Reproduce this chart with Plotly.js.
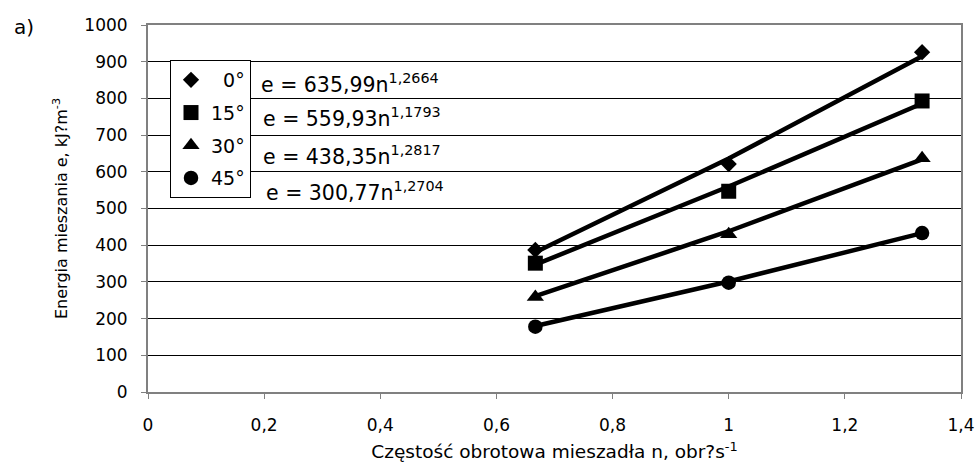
<!DOCTYPE html>
<html>
<head>
<meta charset="utf-8">
<script src="https://cdn.plot.ly/plotly-3.0.1.min.js"></script>
<style>html,body{margin:0;padding:0;background:#fff;}#chart{width:978px;height:474px;}</style>
</head>
<body>
<div id="chart"></div>
<script>
// Data
const speeds = [0.667, 1.0, 1.333];
const angleLabels = ['\u00a0\u00a00°', '15°', '30°', '45°'];
const values0 = [387, 621, 926];
const values15 = [351, 547, 793];
const values30 = [259, 430, 637];
const values45 = [178, 298, 433];
// Power-law trend lines
const trend0 = [381, 636, 915];
const trend15 = [347, 560, 786];
const trend30 = [261, 438, 634];
const trend45 = [180, 301, 433];
const equations = [
  'e = 635,99n<sup>1,2664</sup>',
  'e = 559,93n<sup>1,1793</sup>',
  'e = 438,35n<sup>1,2817</sup>',
  'e = 300,77n<sup>1,2704</sup>'
];
const symbols = ['diamond', 'square', 'triangle-up', 'circle'];
const markerSizes = [12.5, 15, 15, 14.5];

const seriesVals = [values0, values15, values30, values45];
const trendVals = [trend0, trend15, trend30, trend45];

const FONT = 'DejaVu Sans, Verdana, sans-serif';
const traces = [];
trendVals.forEach(function (tv) {
  traces.push({
    x: speeds, y: tv, mode: 'lines', type: 'scatter',
    line: {color: '#000', width: 4.5}, showlegend: false, hoverinfo: 'skip'
  });
});
seriesVals.forEach(function (v, i) {
  traces.push({
    x: speeds, y: v, mode: 'markers', type: 'scatter', name: angleLabels[i],
    legendgroup: 'g' + i,
    marker: {symbol: symbols[i], size: markerSizes[i], color: '#000'}
  });
});

const eqY = [83, 118, 155, 192];
const eqX = [259, 261, 261, 264];
const annotations = equations.map(function (t, i) {
  return {
    text: t, xref: 'paper', yref: 'paper',
    x: (eqX[i] - 148) / 813, y: (392 - eqY[i]) / 367,
    xanchor: 'left', yanchor: 'middle', showarrow: false,
    font: {family: FONT, size: 20.5, color: '#000'}
  };
});
annotations.push({
  text: 'a)', xref: 'paper', yref: 'paper',
  x: (12 - 148) / 813, y: (392 - 27) / 367, xanchor: 'left', yanchor: 'middle',
  showarrow: false, font: {family: FONT, size: 20, color: '#000'}
});

const layout = {
  width: 978, height: 474,
  margin: {l: 148, r: 17, t: 25, b: 82},
  paper_bgcolor: '#fff', plot_bgcolor: '#fff',
  separators: ', ',
  font: {family: FONT, size: 17, color: '#000'},
  showlegend: true,
  legend: {
    x: (170 - 148) / 813, y: (392 - 60) / 367, xanchor: 'left', yanchor: 'top',
    bgcolor: '#fff', bordercolor: '#000', borderwidth: 1,
    font: {family: FONT, size: 19, color: '#000'},
    itemwidth: 30, tracegroupgap: 5
  },
  xaxis: {
    range: [0, 1.4], dtick: 0.2, tick0: 0,
    showgrid: false, zeroline: false,
    showline: true, linecolor: '#808080', linewidth: 2, mirror: true,
    ticks: 'outside', ticklen: 5, tickcolor: '#808080', tickwidth: 1,
    ticklabelstandoff: 12,
    tickfont: {family: FONT, size: 17, color: '#000'},
    title: {text: 'Częstość obrotowa mieszadła n, obr?s<sup>-1</sup>', standoff: 11,
            font: {family: FONT, size: 18.5, color: '#000'}}
  },
  yaxis: {
    range: [0, 1000], dtick: 100, tick0: 0,
    showgrid: true, gridcolor: '#000', gridwidth: 1,
    zeroline: false,
    showline: true, linecolor: '#808080', linewidth: 2, mirror: true,
    ticks: 'outside', ticklen: 5, tickcolor: '#808080', tickwidth: 1,
    ticklabelstandoff: 10,
    tickfont: {family: FONT, size: 17, color: '#000'},
    title: {text: 'Energia mieszania e, kJ?m<sup>-3</sup>', standoff: 13,
            font: {family: FONT, size: 16, color: '#000'}}
  },
  annotations: annotations
};

Plotly.newPlot('chart', traces, layout, {displayModeBar: false, staticPlot: true});
</script>
</body>
</html>
